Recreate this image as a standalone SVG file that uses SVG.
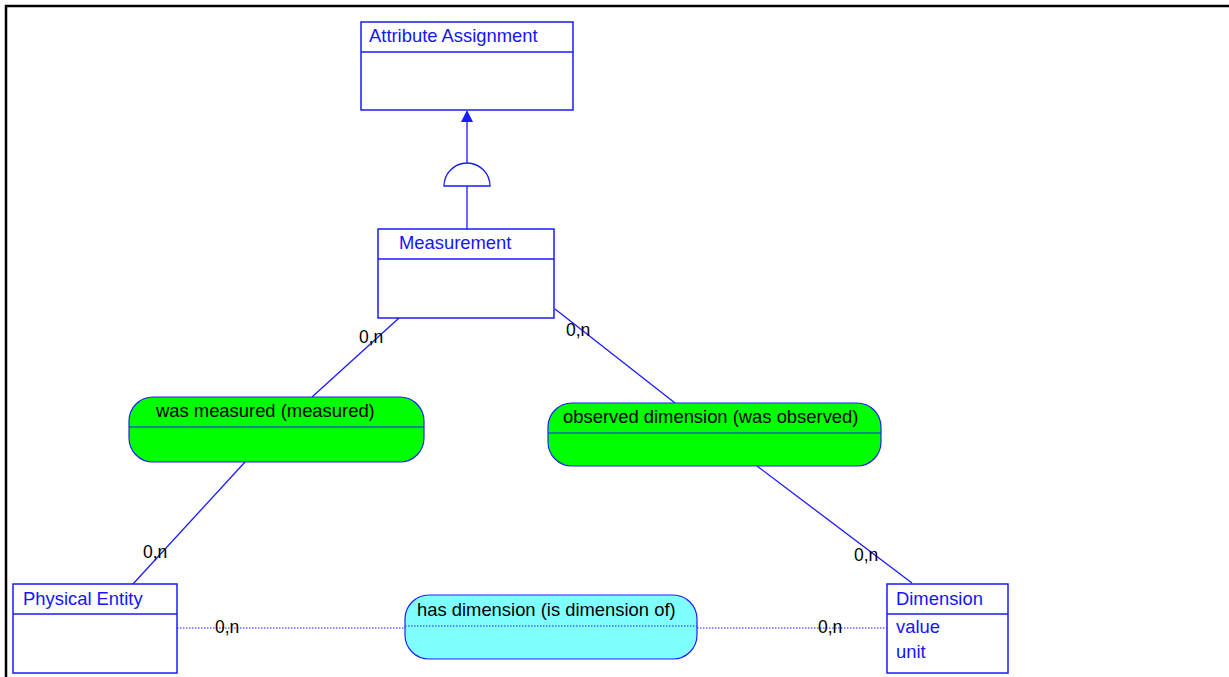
<svg xmlns="http://www.w3.org/2000/svg" width="1229" height="677" viewBox="0 0 1229 677">
  <style>
    .frame { fill: none; stroke: #000; stroke-width: 2.5; }
    .entity rect, .entity line { fill: #fff; stroke: #1a1aff; stroke-width: 1.5; }
    .entity text { font-family: "Liberation Sans", Arial, sans-serif; font-size: 18.4px; fill: #1414ff; }
    .rel rect { stroke: #2020ff; stroke-width: 1.2; }
    .rel line { stroke: #2020ff; stroke-width: 1.2; }
    .rel text { font-family: "Liberation Sans", Arial, sans-serif; font-size: 18.4px; fill: #000; }
    .green { fill: #00ff00; }
    .cyan { fill: #80ffff; }
    .conn { fill: none; stroke: #1a1aff; stroke-width: 1.3; }
    .dotted { stroke-dasharray: 1.5 1.5; stroke-width: 1.2; }
    .card { font-family: "Liberation Sans", Arial, sans-serif; font-size: 17.5px; fill: #000; }
  </style>

  <rect width="1229" height="677" fill="#fff"/>
  <path class="frame" d="M6,677 V6 H1229"/>

  <!-- connectors -->
  <g id="connectors">
    <line class="conn" x1="467" y1="122" x2="467" y2="163"/>
    <path d="M461,122 L467,110 L473,122 Z" fill="#1a1aff"/>
    <path class="conn" d="M444,186 A23,23 0 0 1 490,186 Z" fill="#fff"/>
    <line class="conn" x1="467" y1="186" x2="467" y2="229"/>
    <line class="conn" x1="399" y1="318" x2="312" y2="397"/>
    <line class="conn" x1="245" y1="462" x2="133" y2="584"/>
    <line class="conn" x1="555" y1="309" x2="675" y2="403"/>
    <line class="conn" x1="757" y1="466" x2="912" y2="583"/>
    <line class="conn dotted" x1="177" y1="628" x2="405" y2="628"/>
    <line class="conn dotted" x1="697" y1="628" x2="887" y2="628"/>
    <text class="card" x="359" y="343">0,n</text>
    <text class="card" x="566" y="336">0,n</text>
    <text class="card" x="143" y="558">0,n</text>
    <text class="card" x="854" y="561">0,n</text>
    <text class="card" x="215" y="633">0,n</text>
    <text class="card" x="818" y="633">0,n</text>
  </g>

  <!-- entities -->
  <g id="attribute-assignment" class="entity">
    <rect x="361" y="22" width="212" height="88"/>
    <line x1="361" y1="52" x2="573" y2="52"/>
    <text x="369" y="42">Attribute Assignment</text>
  </g>
  <g id="measurement" class="entity">
    <rect x="378" y="229" width="176" height="89"/>
    <line x1="378" y1="259" x2="554" y2="259"/>
    <text x="399" y="249">Measurement</text>
  </g>
  <g id="physical-entity" class="entity">
    <rect x="13" y="584" width="164" height="89"/>
    <line x1="13" y1="614" x2="177" y2="614"/>
    <text x="23" y="605">Physical Entity</text>
  </g>
  <g id="dimension" class="entity">
    <rect x="887" y="584" width="121" height="89"/>
    <line x1="887" y1="614" x2="1008" y2="614"/>
    <text x="896" y="605">Dimension</text>
    <text x="896" y="633">value</text>
    <text x="896" y="658">unit</text>
  </g>

  <!-- relationships -->
  <g id="was-measured" class="rel">
    <rect class="green" x="129" y="397" width="295" height="65" rx="24" ry="24"/>
    <line x1="129" y1="427" x2="424" y2="427"/>
    <text x="156" y="417">was measured (measured)</text>
  </g>
  <g id="observed-dimension" class="rel">
    <rect class="green" x="548" y="403" width="333" height="63" rx="24" ry="24"/>
    <line x1="548" y1="433" x2="881" y2="433"/>
    <text x="563" y="423">observed dimension (was observed)</text>
  </g>
  <g id="has-dimension" class="rel">
    <rect class="cyan" x="405" y="595" width="292" height="64" rx="24" ry="24"/>
    <line class="dotted" x1="405" y1="626" x2="697" y2="626"/>
    <text x="417" y="616">has dimension (is dimension of)</text>
  </g>
</svg>
